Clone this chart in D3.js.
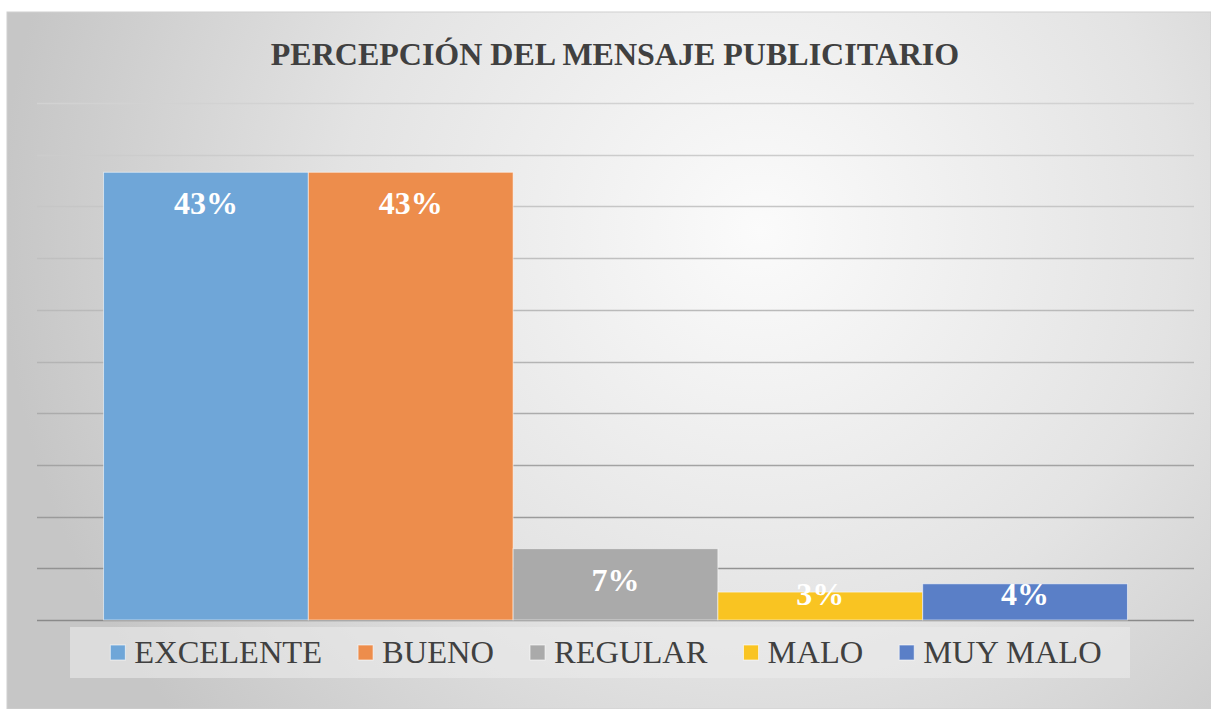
<!DOCTYPE html>
<html lang="es">
<head>
    <meta charset="UTF-8">
    <title>Percepción del mensaje publicitario</title>
    <script src="https://d3js.org/d3.v7.min.js"></script>
    <style>
        body {
            margin: 0;
            background: #fff;
            overflow: hidden;
        }
    </style>
</head>
<body>
    <div id="chart"></div>

    <script>
        // data
        const categories = ["EXCELENTE", "BUENO", "REGULAR", "MALO", "MUY MALO"];
        const values = [0.433, 0.433, 0.069, 0.027, 0.035];
        const colors = ["#6fa6d8", "#ed8d4c", "#aaaaaa", "#f9c422", "#5a7fc7"];
        const labels = ["43%", "43%", "7%", "3%", "4%"];
        const gridTicks = [0, 0.05, 0.1, 0.15, 0.2, 0.25, 0.3, 0.35, 0.4, 0.45, 0.5];
        const title = "PERCEPCIÓN DEL MENSAJE PUBLICITARIO";

        const W = 1211, H = 709;
        const plot = { left: 37, right: 1194, top: 103, bottom: 620 };
        const serif = "'Liberation Serif', 'Times New Roman', Times, serif";

        const svg = d3.select("#chart")
            .append("svg")
            .attr("width", W)
            .attr("height", H);

        const defs = svg.append("defs");

        const bg = defs.append("radialGradient")
            .attr("id", "bg")
            .attr("gradientUnits", "userSpaceOnUse")
            .attr("cx", 760).attr("cy", 230).attr("r", 760);
        bg.append("stop").attr("offset", "0").attr("stop-color", "#fbfbfb");
        bg.append("stop").attr("offset", "0.55").attr("stop-color", "#e3e3e3");
        bg.append("stop").attr("offset", "1").attr("stop-color", "#c6c6c6");

        // grid lines get darker towards the bottom
        const gridGrad = defs.append("linearGradient")
            .attr("id", "gridGrad")
            .attr("gradientUnits", "userSpaceOnUse")
            .attr("x1", 0).attr("y1", plot.top).attr("x2", 0).attr("y2", plot.bottom);
        gridGrad.append("stop").attr("offset", "0").attr("stop-color", "#d2d2d2");
        gridGrad.append("stop").attr("offset", "0.5").attr("stop-color", "#b4b4b4");
        gridGrad.append("stop").attr("offset", "1").attr("stop-color", "#8a8a8a");

        // chart background
        svg.append("rect")
            .attr("x", 7).attr("y", 12)
            .attr("width", W - 7).attr("height", H - 12)
            .attr("fill", "url(#bg)")
            .attr("stroke", "#d0d0d0")
            .attr("stroke-width", 1);

        // title
        svg.append("text")
            .attr("x", 615)
            .attr("y", 65)
            .attr("text-anchor", "middle")
            .attr("font-family", serif)
            .attr("font-size", 32)
            .attr("font-weight", "bold")
            .attr("fill", "#404040")
            .text(title);

        const y = d3.scaleLinear()
            .domain([0, 0.5])
            .range([plot.bottom, plot.top]);

        const x = d3.scaleBand()
            .domain(categories)
            .range([plot.left, plot.right])
            .paddingInner(0)
            .paddingOuter(0.325);

        // grid
        svg.append("g")
            .selectAll("line")
            .data(gridTicks)
            .enter().append("line")
            .attr("x1", plot.left)
            .attr("x2", plot.right)
            .attr("y1", d => Math.round(y(d)) + 0.5)
            .attr("y2", d => Math.round(y(d)) + 0.5)
            .attr("stroke", "url(#gridGrad)")
            .attr("stroke-width", 1.3);

        const data = categories.map((c, i) => ({ cat: c, value: values[i], color: colors[i], label: labels[i] }));

        // bars
        svg.append("g")
            .selectAll("rect")
            .data(data)
            .enter().append("rect")
            .attr("x", d => x(d.cat))
            .attr("y", d => y(d.value))
            .attr("width", x.bandwidth())
            .attr("height", d => y(0) - y(d.value))
            .attr("fill", d => d.color)
            .attr("stroke", "rgba(255,255,255,0.55)")
            .attr("stroke-width", 1);

        // value labels (inside end, kept off the baseline for short bars)
        svg.append("g")
            .selectAll("text")
            .data(data)
            .enter().append("text")
            .attr("x", d => x(d.cat) + x.bandwidth() / 2)
            .attr("y", d => Math.min(y(d.value) + 31, plot.bottom - 26))
            .attr("dy", "0.35em")
            .attr("text-anchor", "middle")
            .attr("font-family", serif)
            .attr("font-size", 32)
            .attr("font-weight", "bold")
            .attr("fill", "#ffffff")
            .text(d => d.label);

        // legend
        svg.append("rect")
            .attr("x", 70).attr("y", 627)
            .attr("width", 1060).attr("height", 51)
            .attr("fill", "rgba(235,235,235,0.6)");

        const items = svg.append("g")
            .selectAll("g")
            .data(data)
            .enter().append("g");

        items.append("rect")
            .attr("width", 15).attr("height", 15)
            .attr("y", -18)
            .attr("fill", d => d.color)
            .attr("stroke", "rgba(255,255,255,0.6)");

        items.append("text")
            .attr("x", 24)
            .attr("y", 0)
            .attr("font-family", serif)
            .attr("font-size", 32.5)
            .attr("fill", "#404040")
            .text(d => d.cat);

        const gap = 36;
        const widths = [];
        items.each(function() { widths.push(24 + this.querySelector("text").getComputedTextLength()); });
        const total = d3.sum(widths) + gap * (widths.length - 1);
        let cx = 606 - total / 2;
        items.attr("transform", (d, i) => {
            const t = `translate(${cx},663)`;
            cx += widths[i] + gap;
            return t;
        });
    </script>
</body>
</html>
